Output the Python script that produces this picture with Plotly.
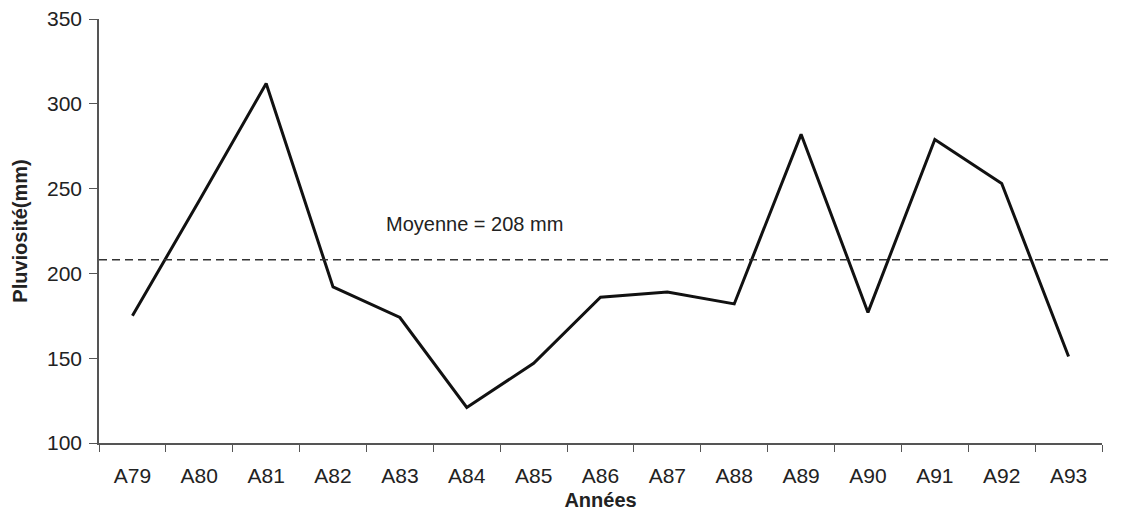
import plotly.graph_objects as go

years = ["A79", "A80", "A81", "A82", "A83", "A84", "A85", "A86",
         "A87", "A88", "A89", "A90", "A91", "A92", "A93"]
rain_mm = [175, 243, 312, 192, 174, 121, 147, 186,
           189, 182, 282, 177, 279, 253, 151]
mean_mm = 208
y_ticks = [100, 150, 200, 250, 300, 350]

FONT = "Liberation Sans, Arial, sans-serif"

fig = go.Figure()
fig.add_trace(go.Scatter(
    x=years, y=rain_mm, mode="lines",
    line=dict(color="#111111", width=3),
    showlegend=False, hoverinfo="skip",
))

fig.add_shape(type="line", xref="paper", yref="y",
              x0=0, x1=1.02, y0=mean_mm, y1=mean_mm,
              line=dict(color="#333333", width=1.5, dash="8px,5px"))

fig.add_annotation(text=f"Moyenne = {mean_mm} mm", xref="x", yref="y",
                   x=5.12, y=mean_mm + 21, showarrow=False,
                   font=dict(family=FONT, size=20, color="#222222"))

fig.update_layout(
    width=1113, height=509,
    margin=dict(l=91, r=19, t=11, b=74, autoexpand=False),
    paper_bgcolor="white", plot_bgcolor="white",
    font=dict(family=FONT, color="#222222"),
    xaxis=dict(
        type="category", categoryorder="array", categoryarray=years,
        range=[-0.5, len(years) - 0.5], automargin=False,
        tickson="boundaries", ticks="outside", ticklen=7, tickwidth=1,
        tickcolor="#555555", showline=True, linecolor="#555555", linewidth=1.5,
        showgrid=False, zeroline=False,
        tickfont=dict(family=FONT, size=21, color="#222222"),
        ticklabelstandoff=13,
        title=dict(text="<b>Années</b>", font=dict(family=FONT, size=20, color="#222222"),
                   standoff=7),
    ),
    yaxis=dict(
        range=[100, 350], tickvals=y_ticks, ticks="outside", ticklen=8,
        tickwidth=1, tickcolor="#555555", showline=True, linecolor="#555555",
        linewidth=1.5, showgrid=False, zeroline=False, automargin=False,
        tickfont=dict(family=FONT, size=21, color="#222222"),
        ticklabelstandoff=3, ticklabeloverflow="allow",
        title=dict(text="<b>Pluviosité(mm)</b>", font=dict(family=FONT, size=20, color="#222222"),
                   standoff=14),
    ),
)

fig.write_html("out.html")
